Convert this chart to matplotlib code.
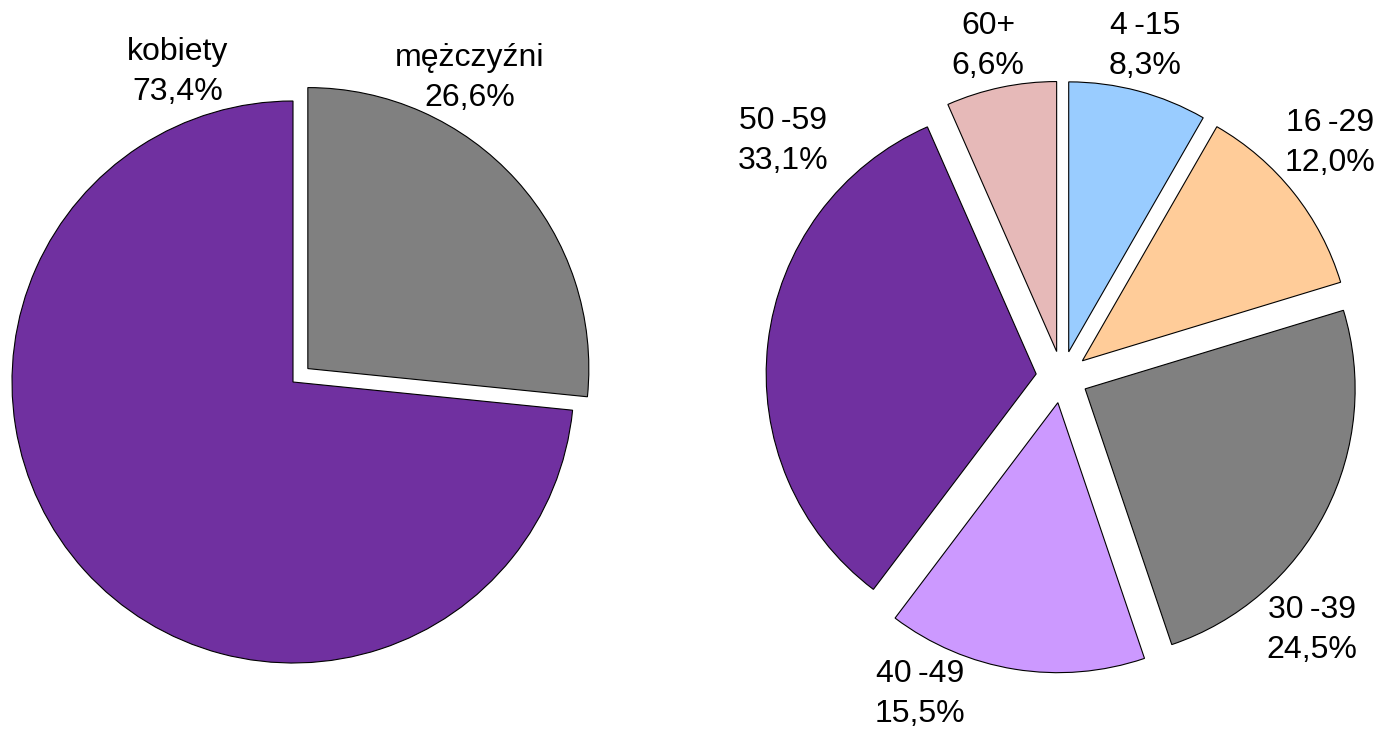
import matplotlib.pyplot as plt

plt.rcParams['font.family'] = ['Liberation Sans', 'DejaVu Sans']

# płeć
sex_labels = ['mężczyźni', 'kobiety']
sex_values = [26.6, 73.4]
sex_colors = ['#808080', '#7030A0']

# wiek
age_labels = ['4\u2009-15', '16\u2009-29', '30\u2009-39', '40\u2009-49', '50\u2009-59', '60+']
age_values = [8.3, 12.0, 24.5, 15.5, 33.1, 6.6]
age_colors = ['#99CCFF', '#FFCC99', '#808080', '#CC99FF', '#7030A0', '#E6B9B8']

W, H = 1387, 735
fig = plt.figure(figsize=(W / 100, H / 100), dpi=100)
ax = fig.add_axes([0, 0, 1, 1])

wp = dict(edgecolor='black', linewidth=0.8)

# explode w pikselach (osie w pikselach, pie nie skaluje explode przez radius)
ax.pie(sex_values, colors=sex_colors, startangle=90, counterclock=False,
       explode=[20, 0], center=(293, H - 382), radius=281, wedgeprops=wp)
ax.pie(age_values, colors=age_colors, startangle=90, counterclock=False,
       explode=[26] * len(age_values), center=(1062, H - 377), radius=270,
       wedgeprops=wp)

# pie() zmienia granice osi - ustawiamy je po rysowaniu
ax.set_xlim(0, W)
ax.set_ylim(0, H)
ax.set_aspect('equal')
ax.axis('off')

def fmt(name, v):
    return f"{name}\n{v:.1f}%".replace('.', ',')

fs = 23
ls = 1.42
sex_pos = [(470, 78), (178, 72)]
for name, v, (x, y) in zip(sex_labels, sex_values, sex_pos):
    ax.text(x, H - y, fmt(name, v), ha='center', va='center', fontsize=fs, linespacing=ls)

age_pos = [(1145, 46), (1330, 143), (1312, 630), (920, 694), (783, 141), (988, 46)]
for name, v, (x, y) in zip(age_labels, age_values, age_pos):
    ax.text(x, H - y, fmt(name, v), ha='center', va='center', fontsize=fs, linespacing=ls)

fig.savefig('out.png', dpi=100)
